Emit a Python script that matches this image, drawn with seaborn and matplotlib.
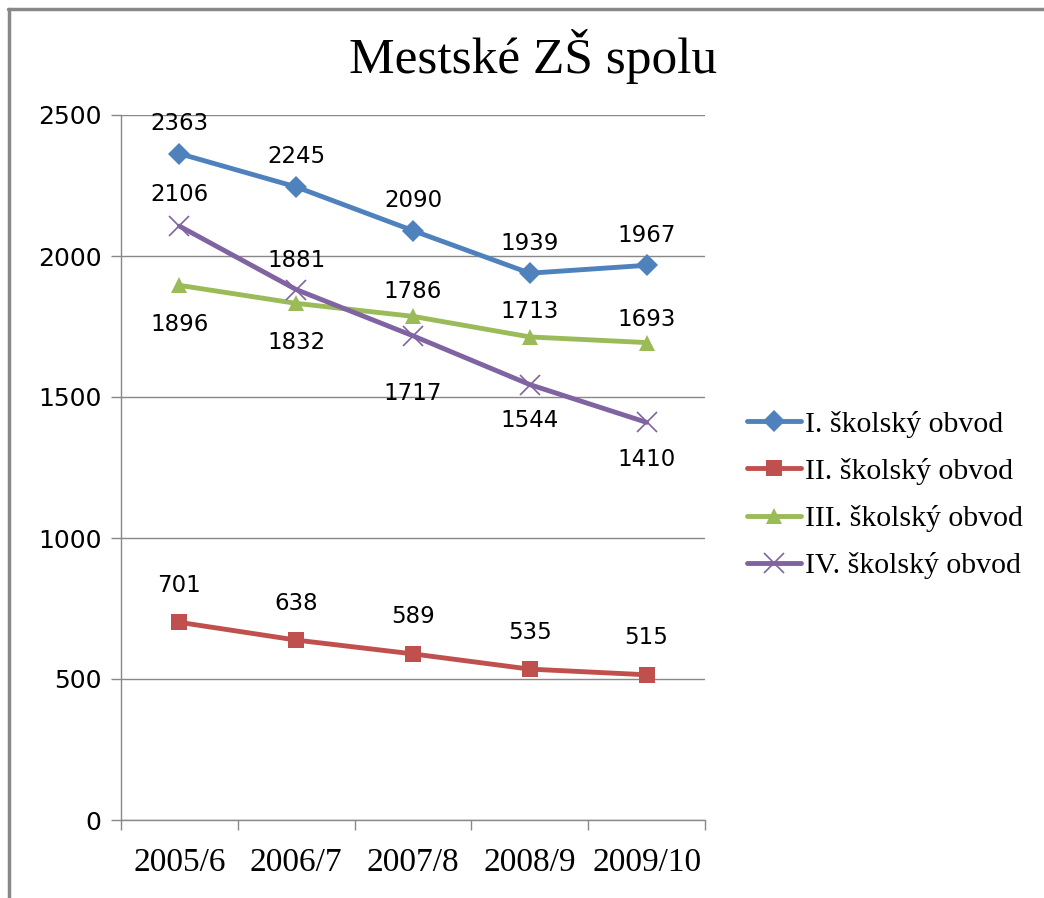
import matplotlib
matplotlib.use("Agg")
import matplotlib.pyplot as plt
import pandas as pd
import seaborn as sns
from matplotlib.lines import Line2D

# data
years = ["2005/6", "2006/7", "2007/8", "2008/9", "2009/10"]
obvod_1 = [2363, 2245, 2090, 1939, 1967]
obvod_2 = [701, 638, 589, 535, 515]
obvod_3 = [1896, 1832, 1786, 1713, 1693]
obvod_4 = [2106, 1881, 1717, 1544, 1410]
series_names = ["I. školský obvod", "II. školský obvod",
                "III. školský obvod", "IV. školský obvod"]

colors = ["#4F81BD", "#C0504D", "#9BBB59", "#8064A2"]
markers = ["D", "s", "^", "x"]
msizes = [11, 11, 12, 14]
# label offsets in pixels (+ above, - below)
label_dy = [
    [30, 30, 30, 30, 30],
    [37, 37, 37, 37, 37],
    [-39, -39, 25, 25, 23],
    [32, 29, -58, -36, -37],
]

all_vals = [obvod_1, obvod_2, obvod_3, obvod_4]

sns.set_style("white")
plt.rcParams["text.color"] = "black"
plt.rcParams["xtick.color"] = "#888888"
plt.rcParams["ytick.color"] = "#888888"
plt.rcParams["xtick.labelcolor"] = "black"
plt.rcParams["ytick.labelcolor"] = "black"
serif = ["Liberation Serif", "DejaVu Serif"]
sans = ["DejaVu Sans"]

fig = plt.figure(figsize=(10.44, 8.98), dpi=100)
ax = fig.add_axes([121 / 1044, 78 / 898, 584 / 1044, 705 / 898])

for vals, c, m, ms in zip(all_vals, colors, markers, msizes):
    d = pd.DataFrame({"x": range(len(years)), "value": vals})
    sns.lineplot(data=d, x="x", y="value", color=c, marker=m, markersize=ms,
                 markeredgewidth=1.2 if m == "x" else 0, markeredgecolor=c,
                 linewidth=3.5, ax=ax)

# data labels
for vals, dys in zip(all_vals, label_dy):
    for i, (v, dy) in enumerate(zip(vals, dys)):
        ax.annotate(str(v), (i, v), xytext=(0, dy * 0.72), textcoords="offset points",
                    ha="center", va="center", fontsize=16.5, family=sans,
                    color="black")

ax.set_xlim(-0.5, len(years) - 0.5)
ax.set_ylim(0, 2500)
ax.set_yticks(range(0, 2501, 500))
ax.set_yticklabels([str(v) for v in range(0, 2501, 500)], family=sans, fontsize=18)
ax.set_xticks(range(len(years)))
ax.set_xticklabels(years, family=serif, fontsize=24)
ax.set_xticks([i - 0.5 for i in range(len(years) + 1)], minor=True)
ax.tick_params(axis="x", which="major", bottom=True, length=0, pad=20)
ax.tick_params(axis="x", which="minor", bottom=True, length=7, color="#888888", width=1)
ax.tick_params(axis="y", left=True, length=7, color="#888888", width=1, pad=7)
ax.set_xlabel("")
ax.set_ylabel("")
ax.grid(axis="y", color="#888888", linewidth=1)
for side in ["top", "right"]:
    ax.spines[side].set_visible(False)
for side in ["left", "bottom"]:
    ax.spines[side].set_color("#888888")
    ax.spines[side].set_linewidth(1)

fig.suptitle("Mestské ZŠ spolu", x=533 / 1044, y=1 - 57 / 898, va="center",
             family=serif, fontsize=37, color="black")

handles = [Line2D([], [], color=c, marker=m, markersize=ms, linewidth=3.5,
                  markeredgewidth=1.2 if m == "x" else 0, markeredgecolor=c)
           for c, m, ms in zip(colors, markers, msizes)]
fig.legend(handles, series_names, loc="center left",
           bbox_to_anchor=(735 / 1044, 1 - 495 / 898), frameon=False,
           prop={"family": serif, "size": 21.5}, handlelength=1.8,
           handletextpad=0.15, labelspacing=0.68, borderaxespad=0)

# chart border (top and left only visible)
fig.add_artist(Line2D([8 / 1044, 1], [1 - 9 / 898, 1 - 9 / 898],
                      transform=fig.transFigure, color="#888888", linewidth=2.5))
fig.add_artist(Line2D([9 / 1044, 9 / 1044], [0, 1 - 9 / 898],
                      transform=fig.transFigure, color="#888888", linewidth=2.5))

fig.savefig("out.png", dpi=100)
